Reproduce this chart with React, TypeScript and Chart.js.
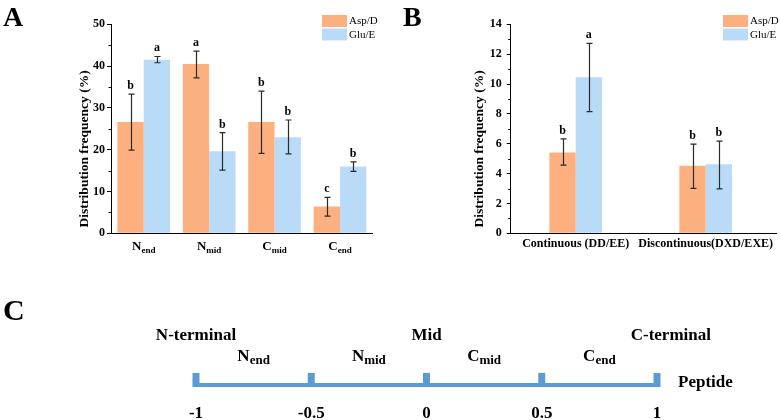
import React, { useEffect, useRef } from 'react';
import { Chart, registerables } from 'chart.js';
Chart.register(...registerables);

const SERIF = '"Liberation Serif", "Times New Roman", Times, serif';

// ---------- Panel A data ----------
const categoriesA = ['Nend', 'Nmid', 'Cmid', 'Cend'];
const labelMainA = ['N', 'N', 'C', 'C'];
const labelSubA = ['end', 'mid', 'mid', 'end'];
const aspA = [26.6, 40.5, 26.6, 6.4];
const aspLowA = [19.9, 37.2, 19.1, 4.1];
const aspHighA = [33.3, 43.6, 34.0, 8.6];
const aspLetterA = ['b', 'a', 'b', 'c'];
const gluA = [41.5, 19.6, 23.0, 16.0];
const gluLowA = [40.8, 15.1, 19.0, 14.8];
const gluHighA = [42.3, 24.1, 27.1, 17.1];
const gluLetterA = ['a', 'b', 'b', 'b'];
const yMaxA = 50;
const yMajorA = 10;
const yMinorA = 5;

// ---------- Panel B data ----------
const categoriesB = ['Continuous (DD/EE)', 'Discontinuous(DXD/EXE)'];
const aspB = [5.42, 4.53];
const aspLowB = [4.57, 3.01];
const aspHighB = [6.32, 5.98];
const aspLetterB = ['b', 'b'];
const gluB = [10.45, 4.62];
const gluLowB = [8.15, 2.97];
const gluHighB = [12.72, 6.18];
const gluLetterB = ['a', 'b'];
const yMaxB = 14;
const yMajorB = 2;
const yMinorB = 1;

// ---------- Panel C data ----------
const peptideTicks = [-1, -0.5, 0, 0.5, 1];
const peptideTickLabels = ['-1', '-0.5', '0', '0.5', '1'];
const terminalLabels = ['N-terminal', 'Mid', 'C-terminal'];
const terminalAt = [-1, 0, 1.06];
const regionMain = ['N', 'N', 'C', 'C'];
const regionSub = ['end', 'mid', 'mid', 'end'];

const seriesNames = ['Asp/D', 'Glu/E'];
const ORANGE = '#FDB07F';
const BLUE = '#B9DBF7';
const LINE_BLUE = '#5B9BD5';
const Y_TITLE = 'Distribution frequency (%)';

type BarPanel = {
  letter: string;
  letterX: number;
  categories: string[];
  asp: number[]; aspLow: number[]; aspHigh: number[]; aspLetter: string[];
  glu: number[]; gluLow: number[]; gluHigh: number[]; gluLetter: string[];
  yMax: number; yMajor: number; yMinor: number;
  catPct: number;
  padRight: number;
  yWidth: number;
  tickPad: number;
  titleX: number;
  legendX: number;
  nativeX: boolean;
  xMain?: string[];
  xSub?: string[];
  axisExtendTo?: number;
};

function barPlugin(p: BarPanel) {
  return {
    id: 'barExtras',
    afterDatasetsDraw(chart: any) {
      const { ctx, scales } = chart;
      const y = scales.y;
      const errs: [number[], number[], string[]][] = [
        [p.aspLow, p.aspHigh, p.aspLetter],
        [p.gluLow, p.gluHigh, p.gluLetter],
      ];
      ctx.save();
      errs.forEach(([lo, hi, lt], di) => {
        chart.getDatasetMeta(di).data.forEach((bar: any, i: number) => {
          const cx = Math.round(bar.x) + 0.5;
          const yl = y.getPixelForValue(lo[i]);
          const yh = y.getPixelForValue(hi[i]);
          ctx.strokeStyle = '#2a2a2a';
          ctx.lineWidth = 1.2;
          ctx.beginPath();
          ctx.moveTo(cx, yl); ctx.lineTo(cx, yh);
          ctx.moveTo(cx - 3, yl); ctx.lineTo(cx + 3, yl);
          ctx.moveTo(cx - 3, yh); ctx.lineTo(cx + 3, yh);
          ctx.stroke();
          ctx.fillStyle = '#000';
          ctx.font = `bold 12px ${SERIF}`;
          ctx.textAlign = 'center';
          ctx.textBaseline = 'alphabetic';
          ctx.fillText(lt[i], bar.x, yh - 5);
        });
      });
      ctx.restore();
    },
    afterDraw(chart: any) {
      const { ctx, scales, chartArea } = chart;
      const y = scales.y;
      const x = scales.x;
      ctx.save();
      // minor ticks
      ctx.strokeStyle = '#000';
      ctx.lineWidth = 1;
      y.ticks.forEach((t: any) => {
        if (t.value % p.yMajor !== 0) {
          const py = Math.round(y.getPixelForValue(t.value)) + 0.5;
          ctx.beginPath();
          ctx.moveTo(chartArea.left - 2.5, py);
          ctx.lineTo(chartArea.left, py);
          ctx.stroke();
        }
      });
      // axis extension
      if (p.axisExtendTo) {
        const py = Math.round(chartArea.bottom) + 0.5;
        ctx.beginPath();
        ctx.moveTo(chartArea.right, py);
        ctx.lineTo(p.axisExtendTo, py);
        ctx.stroke();
      }
      // y title
      ctx.save();
      ctx.translate(p.titleX, 149);
      ctx.rotate(-Math.PI / 2);
      ctx.fillStyle = '#000';
      ctx.font = `bold 13.5px ${SERIF}`;
      ctx.textAlign = 'center';
      ctx.textBaseline = 'middle';
      ctx.fillText(Y_TITLE, 0, 0);
      ctx.restore();
      // x labels with subscripts
      if (!p.nativeX && p.xMain && p.xSub) {
        p.xMain.forEach((m, i) => {
          const cx = x.getPixelForValue(i);
          ctx.font = `bold 13px ${SERIF}`;
          const w1 = ctx.measureText(m).width;
          ctx.font = `bold 9px ${SERIF}`;
          const w2 = ctx.measureText(p.xSub![i]).width;
          const sx = cx - (w1 + w2) / 2;
          ctx.fillStyle = '#000';
          ctx.textAlign = 'left';
          ctx.textBaseline = 'alphabetic';
          ctx.font = `bold 13px ${SERIF}`;
          ctx.fillText(m, sx, 250);
          ctx.font = `bold 9px ${SERIF}`;
          ctx.fillText(p.xSub![i], sx + w1, 252.5);
        });
      }
      // legend
      const cols = [ORANGE, BLUE];
      cols.forEach((c, di) => {
        const top = 15 + di * 13.5;
        ctx.fillStyle = c;
        ctx.fillRect(p.legendX, top, 25, 12);
        ctx.fillStyle = '#000';
        ctx.font = `11px ${SERIF}`;
        ctx.textAlign = 'left';
        ctx.textBaseline = 'middle';
        ctx.fillText(chart.data.datasets[di].label, p.legendX + 27, top + 6.5);
      });
      // panel letter
      ctx.fillStyle = '#000';
      ctx.font = `bold 28px ${SERIF}`;
      ctx.textAlign = 'left';
      ctx.textBaseline = 'alphabetic';
      ctx.fillText(p.letter, p.letterX, 26);
      ctx.restore();
    },
  };
}

function buildBar(p: BarPanel): any {
  return {
    type: 'bar',
    data: {
      labels: p.categories,
      datasets: [
        { label: seriesNames[0], data: p.asp, backgroundColor: ORANGE, borderWidth: 0 },
        { label: seriesNames[1], data: p.glu, backgroundColor: BLUE, borderWidth: 0 },
      ],
    },
    options: {
      responsive: false,
      animation: false,
      devicePixelRatio: 1,
      layout: { padding: { left: 0, right: p.padRight, top: 24.3, bottom: 0 } },
      plugins: { legend: { display: false }, tooltip: { enabled: false } },
      datasets: { bar: { categoryPercentage: p.catPct, barPercentage: 1 } },
      scales: {
        x: {
          grid: { display: false, drawTicks: false },
          border: { display: true, color: '#000', width: 1 },
          ticks: {
            display: p.nativeX,
            color: '#000',
            padding: 3.5,
            maxRotation: 0,
            autoSkip: false,
            font: { family: SERIF, size: 12, weight: 'bold' },
          },
          afterFit: (s: any) => { s.height = 26.7; },
        },
        y: {
          min: 0,
          max: p.yMax,
          grid: {
            drawOnChartArea: false,
            drawTicks: true,
            tickLength: 4,
            tickColor: (c: any) => (c.tick && c.tick.value % p.yMajor === 0 ? '#000' : 'rgba(0,0,0,0)'),
          },
          border: { display: true, color: '#000', width: 1 },
          ticks: {
            stepSize: p.yMinor,
            autoSkip: false,
            color: '#000',
            padding: p.tickPad,
            font: { family: SERIF, size: 12, weight: 'bold' },
            callback: (v: any) => (Number(v) % p.yMajor === 0 ? String(v) : ''),
          },
          afterFit: (s: any) => { s.width = p.yWidth; },
        },
      },
    },
    plugins: [barPlugin(p)],
  };
}

const panelA: BarPanel = {
  letter: 'A', letterX: 3,
  categories: categoriesA,
  asp: aspA, aspLow: aspLowA, aspHigh: aspHighA, aspLetter: aspLetterA,
  glu: gluA, gluLow: gluLowA, gluHigh: gluHighA, gluLetter: gluLetterA,
  yMax: yMaxA, yMajor: yMajorA, yMinor: yMinorA,
  catPct: 0.805,
  padRight: 17.3,
  yWidth: 111,
  tickPad: 2,
  titleX: 84.5,
  legendX: 322,
  nativeX: false,
  xMain: labelMainA,
  xSub: labelSubA,
};

const panelB: BarPanel = {
  letter: 'B', letterX: 13,
  categories: categoriesB,
  asp: aspB, aspLow: aspLowB, aspHigh: aspHighB, aspLetter: aspLetterB,
  glu: gluB, gluLow: gluLowB, gluHigh: gluHighB, gluLetter: gluLetterB,
  yMax: yMaxB, yMajor: yMajorB, yMinor: yMinorB,
  catPct: 0.405,
  padRight: 9.3,
  yWidth: 120.7,
  tickPad: 5,
  titleX: 90,
  legendX: 333,
  nativeX: true,
  axisExtendTo: 387,
};

const peptidePlugin = {
  id: 'peptideExtras',
  afterDatasetsDraw(chart: any) {
    const { ctx, scales, chartArea } = chart;
    const x = scales.x;
    ctx.save();
    ctx.fillStyle = LINE_BLUE;
    peptideTicks.forEach((v) => {
      const px = x.getPixelForValue(v);
      ctx.fillRect(px - 3.5, chartArea.bottom - 12, 7, 14);
    });
    ctx.restore();
  },
  afterDraw(chart: any) {
    const { ctx, scales, chartArea } = chart;
    const x = scales.x;
    ctx.save();
    ctx.fillStyle = '#000';
    ctx.textBaseline = 'alphabetic';
    ctx.font = `bold 17px ${SERIF}`;
    ctx.textAlign = 'center';
    terminalLabels.forEach((t, i) => {
      ctx.fillText(t, x.getPixelForValue(terminalAt[i]), 55);
    });
    regionMain.forEach((m, i) => {
      const mid = (peptideTicks[i] + peptideTicks[i + 1]) / 2;
      const cx = x.getPixelForValue(mid);
      ctx.font = `bold 17px ${SERIF}`;
      const w1 = ctx.measureText(m).width;
      ctx.font = `bold 13px ${SERIF}`;
      const w2 = ctx.measureText(regionSub[i]).width;
      const sx = cx - (w1 + w2) / 2;
      ctx.textAlign = 'left';
      ctx.font = `bold 17px ${SERIF}`;
      ctx.fillText(m, sx, 76);
      ctx.font = `bold 13px ${SERIF}`;
      ctx.fillText(regionSub[i], sx + w1, 79);
    });
    ctx.font = `bold 17px ${SERIF}`;
    ctx.textAlign = 'left';
    ctx.fillText('Peptide', chartArea.right + 21, 102);
    ctx.font = `bold 30px ${SERIF}`;
    ctx.fillText('C', 3, 35);
    ctx.restore();
  },
};

function buildPeptide(): any {
  return {
    type: 'scatter',
    data: {
      datasets: [
        {
          label: 'Peptide',
          data: [
            { x: peptideTicks[0], y: 0 },
            { x: peptideTicks[peptideTicks.length - 1], y: 0 },
          ],
          showLine: true,
          borderColor: LINE_BLUE,
          borderWidth: 4,
          pointRadius: 0,
          clip: false,
        },
      ],
    },
    options: {
      responsive: false,
      animation: false,
      devicePixelRatio: 1,
      layout: { padding: { left: 196, right: 123, top: 10, bottom: 0 } },
      plugins: { legend: { display: false }, tooltip: { enabled: false } },
      scales: {
        x: {
          type: 'linear',
          min: peptideTicks[0],
          max: peptideTicks[peptideTicks.length - 1],
          grid: { display: false, drawTicks: false },
          border: { display: false },
          afterBuildTicks: (s: any) => { s.ticks = peptideTicks.map((v) => ({ value: v })); },
          ticks: {
            color: '#000',
            padding: 18,
            autoSkip: false,
            maxRotation: 0,
            font: { family: SERIF, size: 17, weight: 'bold' },
            callback: (_v: any, i: number) => peptideTickLabels[i],
          },
          afterFit: (s: any) => { s.height = 35; },
        },
        y: { display: false, min: 0, max: 1 },
      },
    },
    plugins: [peptidePlugin],
  };
}

function ChartCanvas(props: { left: number; top: number; width: number; height: number; build: () => any }) {
  const ref = useRef<HTMLCanvasElement>(null);
  useEffect(() => {
    const chart = new Chart(ref.current as HTMLCanvasElement, props.build());
    return () => chart.destroy();
  }, []);
  return (
    <canvas
      ref={ref}
      width={props.width}
      height={props.height}
      style={{ position: 'absolute', left: props.left, top: props.top, width: props.width, height: props.height }}
    />
  );
}

export default function App() {
  return (
    <div style={{ position: 'absolute', left: 0, top: 0, width: 780, height: 420, background: '#fff', overflow: 'hidden' }}>
      <ChartCanvas left={0} top={0} width={390} height={260} build={() => buildBar(panelA)} />
      <ChartCanvas left={390} top={0} width={390} height={260} build={() => buildBar(panelB)} />
      <ChartCanvas left={0} top={285} width={780} height={135} build={buildPeptide} />
    </div>
  );
}
